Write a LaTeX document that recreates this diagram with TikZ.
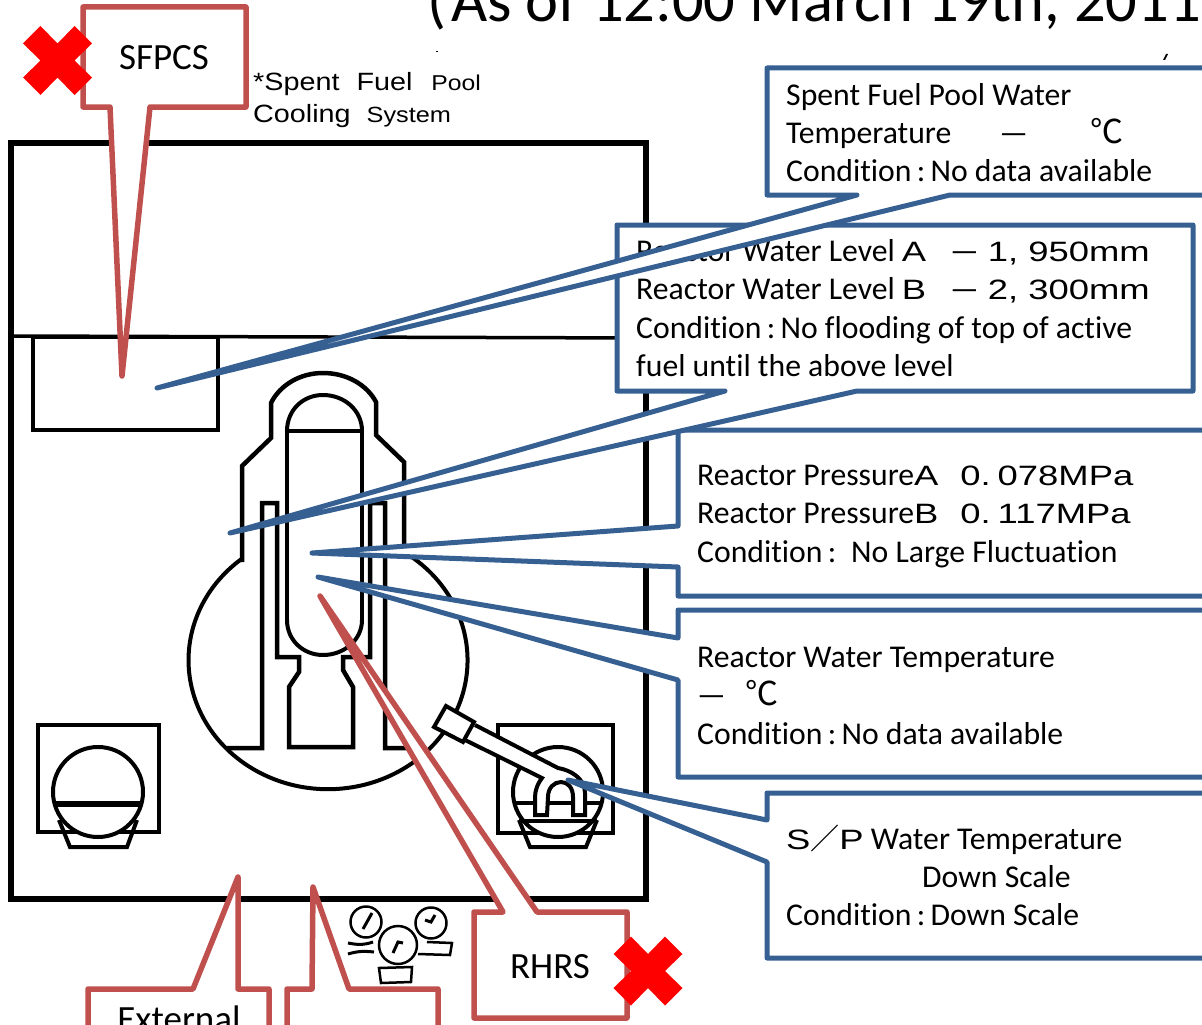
\documentclass[tikz,border=0pt]{standalone}
\usepackage{fontspec}
\setmainfont[Ligatures=NoCommon]{Carlito}
\newfontfamily\widefont[FakeStretch=1.3]{Liberation Sans}
\newfontfamily\notefont[FakeStretch=1.15]{Liberation Sans}
\newfontfamily\cjkfont{Noto Sans CJK JP}
\definecolor{callred}{HTML}{C0504D}
\definecolor{callblue}{HTML}{376092}
\tikzstyle{redcall}=[draw=callred,fill=white,line width=5.5pt,line join=round]
\tikzstyle{bluecall}=[draw=callblue,fill=white,line width=5pt,line join=round]
\tikzstyle{wall}=[draw=black,line width=4.5pt]
\tikzstyle{thinwall}=[draw=black,line width=4pt]
\tikzstyle{gauge}=[draw=black,line width=2.5pt,fill=white,circle,minimum size=31pt,inner sep=0pt]
\tikzstyle{boxtext}=[anchor=north west,inner sep=0pt,align=left,font=\fontsize{31.7}{38.4}\selectfont]
\tikzstyle{calltext}=[inner sep=0pt,font=\fontsize{37}{40}\selectfont]
\newcommand{\wtxt}[1]{{\widefont\fontsize{28}{30}\selectfont #1}}
\newcommand{\degc}{{\cjkfont\fontsize{33}{30}\selectfont ℃}}
\newcommand{\redcross}[1]{\fill[red,shift={(#1)}] (-34.5,-17) -- (-17,-34.5) -- (0,-17) -- (17,-34.5) -- (34.5,-17) -- (17,0) -- (34.5,17) -- (17,34.5) -- (0,17) -- (-17,34.5) -- (-34.5,17) -- (-17,0) -- cycle;}
\begin{document}
\begin{tikzpicture}[x=1pt,y=-1pt]
\useasboundingbox (0,0) rectangle (1202,1025);
\clip (0,0) rectangle (1202,1025);
% title and note
\node[anchor=base west,inner sep=0pt,font=\fontsize{62.5}{70}\selectfont] (paren) at (427,22) {(};
\node[anchor=base west,inner sep=0pt,font=\fontsize{62.5}{70}\selectfont] (title) at (451,22) {As of 12:00 March 19th, 2011};
\fill (436,51) rectangle (438,52);
\fill (1163,60) -- (1166,54) -- (1168,54) -- (1165,60) -- cycle;
\node[anchor=north west,inner sep=0pt,align=left,font=\notefont\fontsize{25}{32}\selectfont] (note) at (253,72) {*Spent\hspace*{17pt}Fuel\hspace*{19pt}{\fontsize{21.5}{32}\selectfont Pool}\\Cooling\hspace*{16pt}{\fontsize{22}{32}\selectfont System}};
% building
\draw[line width=6.5pt] (11,143) rectangle (646,899);
\draw[thinwall,line width=3.5pt] (11,336) -- (646,338);
\draw[thinwall] (33,337) rectangle (218,430);
% containment
\draw[wall] (242,562) -- (242,466) -- (271,438) -- (271,403) .. controls (280,385) and (300,373) .. (323,373) .. controls (347,373) and (367,385) .. (376,402) -- (376,435) -- (404,462) -- (404,552);
\draw[thinwall] (404,552) arc[start angle=-57,end angle=232,x radius=139.5,y radius=129];
% shroud
\draw[wall] (227,748) -- (262,748) -- (262,503) -- (277,503) -- (277,657) -- (299,657) -- (299,672) -- (289,687) -- (289,747) -- (353,747) -- (353,687) -- (343,670) -- (343,657) -- (370,657) -- (370,503) -- (385,503) -- (385,748) -- (407,748);
% vessel
\draw[wall] (287,620) -- (287,431) -- (362,431) -- (362,620);
\draw[thinwall] (287,431) .. controls (287,410) and (303,395) .. (323,395) .. controls (344,395) and (362,410) .. (362,431);
\draw[thinwall] (287,620) .. controls (287,640) and (303,655) .. (323,655) .. controls (344,655) and (362,640) .. (362,620);
% left chamber
\draw[thinwall] (38,725) rectangle (159,832);
\draw[thinwall,fill=white] (98,792) circle (45);
\draw[line width=5.5pt] (54,804) -- (142,804);
\draw[thinwall] (59,820) -- (70,847) -- (127,847) -- (137,820);
% right chamber
\draw[wall] (498,725) rectangle (613,833);
\draw[thinwall,fill=white] (558,792) circle (45);
\draw[line width=4pt] (513,803) -- (603,803);
\draw[thinwall] (519,821) -- (597,821);
\draw[thinwall] (519,820) -- (530,847) -- (586,847) -- (597,820);
\draw[thinwall,fill=white] (475,725) -- (558,768) .. controls (570,770) and (585,778) .. (585,793) -- (585,815) -- (573,815) -- (573,797) .. controls (573,788) and (568,782) .. (561,782) .. controls (554,782) and (548,788) .. (548,797) -- (547,815) -- (535,815) -- (535,797) .. controls (535,790) and (538,783) .. (542,778) -- (465,740);
\draw[thinwall,fill=white] (446,706) -- (474,722) -- (463,742) -- (434,727) -- cycle;
% gauges
\node[gauge] (gaugeA) at (366,922) {};
\node[gauge,minimum size=38pt] (gaugeB) at (398,945) {};
\node[gauge] (gaugeC) at (431,923) {};
\draw[line width=3pt] (372,913) -- (363,929);
\draw[line width=3pt] (403,943) -- (398,942) -- (393,953);
\draw[line width=3pt] (435,915) -- (431,922) -- (425,920);
\draw[line width=3pt] (348,943) .. controls (358,945) and (364,945) .. (373,942);
\draw[line width=3pt] (348,954) .. controls (358,951) and (364,951) .. (374,952);
\draw[line width=2.5pt] (379,968) -- (412,967) -- (411,982) -- (381,983) -- cycle;
\draw[line width=2.5pt] (427,942) -- (452,943) -- (450,955) -- (418,954);
% red callouts
\draw[redcall] (83,7) -- (246,7) -- (246,107) -- (150,107) -- (122,376) -- (110,107) -- (83,107) -- cycle;
\draw[redcall] (88,989) -- (193,989) -- (238,877) -- (238,989) -- (269,989) -- (269,1040) -- (88,1040) -- cycle;
\draw[redcall] (287,989) -- (312,989) -- (313,887) -- (349,989) -- (438,989) -- (438,1040) -- (287,1040) -- cycle;
\draw[redcall] (474,912) -- (503,912) -- (320,596) -- (537,912) -- (627,912) -- (627,1018) -- (474,1018) -- cycle;
\node[calltext] (sfpcs) at (164,58) {SFPCS};
\node[calltext,anchor=base] (external) at (179,1031) {External};
\node[calltext] (rhrs) at (550,967) {RHRS};
\redcross{57.5,60.5}
\redcross{648,971}
% blue callouts
\draw[bluecall] (767,793) -- (1215,793) -- (1215,958) -- (767,958) -- (767,862) -- (568,780) -- (767,820) -- cycle;
\node[boxtext] (sptext) at (786,822) {\strut\wtxt{S}{\cjkfont\fontsize{29}{30}\selectfont ／}\wtxt{P} Water Temperature\\\hspace*{136pt}Down Scale\\Condition\,:\,Down Scale};
\draw[bluecall] (678,610) -- (1215,610) -- (1215,777) -- (678,777) -- (678,680) -- (318,577) -- (678,638) -- cycle;
\node[boxtext] (temptext) at (697,640.5) {\strut Reactor Water Temperature\\---\hspace*{20pt}\degc\\Condition\,:\,No data available};
\draw[bluecall] (678,430) -- (1215,430) -- (1215,596) -- (678,596) -- (678,567) -- (312,553) -- (678,526) -- cycle;
\node[boxtext] (presstext) at (697,458.5) {\strut Reactor Pressure\wtxt{A}\hspace*{22pt}\wtxt{0.\hspace*{7pt}078MPa}\\Reactor Pressure\wtxt{B}\hspace*{22pt}\wtxt{0.\hspace*{7pt}117MPa}\\Condition\,:\, No Large Fluctuation};
\draw[bluecall] (617,225) -- (1193,225) -- (1193,391) -- (857,391) -- (230,533) -- (725,391) -- (617,391) -- cycle;
\node[boxtext] (leveltext) at (636,234.5) {\strut Reactor Water Level \wtxt{A}\hspace*{24pt}---\hspace*{9pt}\wtxt{1, 950mm}\\Reactor Water Level \wtxt{B}\hspace*{24pt}---\hspace*{9pt}\wtxt{2, 300mm}\\Condition\,:\,No flooding of top of active\\fuel until the above level};
\draw[bluecall] (767,68) -- (1215,68) -- (1215,195) -- (950,195) -- (157,388) -- (857,195) -- (767,195) -- cycle;
\node[boxtext] (pooltext) at (786,78) {\strut Spent Fuel Pool Water\\Temperature\hspace*{48pt}---\hspace*{62pt}\degc\\Condition\,:\,No data available};
\end{tikzpicture}
\end{document}
